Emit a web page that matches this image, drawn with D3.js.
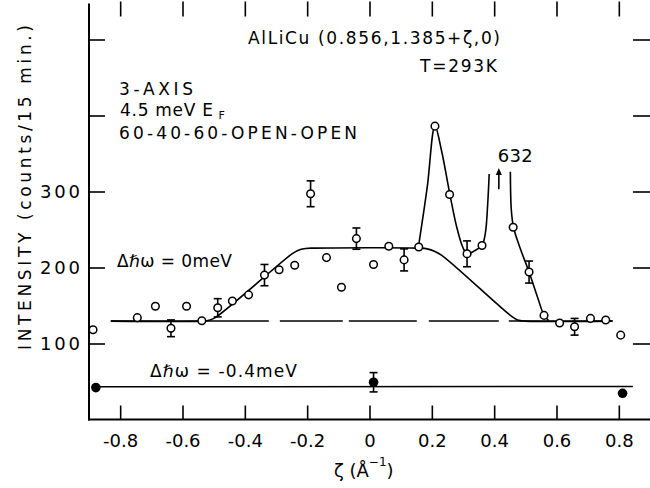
<!DOCTYPE html>
<html><head><meta charset="utf-8">
<script src="https://cdn.jsdelivr.net/npm/d3@7"></script>
<style>
body{margin:0;background:#fff}
svg{display:block;background:#fff}
text{font-family:"DejaVu Sans",sans-serif;fill:#000}
</style>
</head><body>
<svg id="c" width="650" height="488"></svg>
<script>
// ---- data ----
// open circles: Δħω = 0 meV
const zeta0 = [-0.887,-0.745,-0.687,-0.637,-0.587,-0.538,-0.487,-0.440,-0.388,-0.337,-0.290,-0.240,-0.189,-0.138,-0.090,-0.042,0.013,0.062,0.111,0.158,0.210,0.257,0.313,0.361,0.461,0.512,0.560,0.610,0.658,0.709,0.758,0.806];
const int0  = [118,134,149,120,149,130,147,156,164,190,197,203,297,213,174,238,204,228,210,227,386,296,218,229,253,194,137,127,122,133,131,111];
const err0  = [0,0,0,11,0,0,12,0,0,14,0,0,17,0,0,14,0,0,14.5,0,0,0,17,0,0,14.5,0,0,11,0,0,0];
// filled circles: Δħω = -0.4 meV
const zetaNeg = [-0.878,0.013,0.812];
const intNeg  = [42,49,34.5];
const errNeg  = [0,12.7,0];
// trapezoid fit (solid)
const fitZeta = [-0.83,-0.535,-0.515,-0.495,-0.25,-0.23,-0.205,-0.18,0.16,0.185,0.21,0.235,0.455,0.475,0.5,0.78];
const fitInt  = [129.5,129.5,130.5,134,217.5,222.5,225,225.5,225.5,224.5,221,215,136,131,129.5,129.5];
// peak curves (solid)
const peakAZeta = [0.157,0.185,0.210,0.231,0.258,0.280,0.300,0.314,0.337,0.361,0.372,0.379,0.384];
const peakAInt  = [227,305,386,354,296,253,226,218,222,229,246,282,323];
const peakBZeta = [0.452,0.455,0.462,0.482,0.512,0.540,0.560,0.575];
const peakBInt  = [326,276,253,227,194,160,137,130];
// dashed background level
const baseZeta = [-0.83,0.78];
const baseInt  = [129.5,129.5];
// line through filled points
const negZeta = [-0.878,0.845];
const negInt  = [43,43.5];
// arrow to off-scale point 632
const arrowZeta = 0.415, arrowFrom = 303, arrowTo = 331, arrowLabel = "632";
// ticks
const xTicks = [-0.8,-0.6,-0.4,-0.2,0,0.2,0.4,0.6,0.8];
const xTickLabels = ["-0.8","-0.6","-0.4","-0.2","0","0.2","0.4","0.6","0.8"];
const yTicks = [100,200,300,400,500];
const yTickLabels = ["100","200","300","",""];

// ---- drawing ----
const svg = d3.select("#c");
const L = 89, R = 650, T = 1.5, B = 419.5;
const x = d3.scaleLinear().domain([-0.9,0.9]).range([L,R]);
const y = d3.scaleLinear().domain([0,550]).range([B,T]);
const ink = "#000";

// axes
const gB = svg.append("g").attr("transform",`translate(0,${B})`)
  .call(d3.axisBottom(x).tickValues(xTicks).tickSizeInner(-14).tickSizeOuter(0)
  .tickFormat((d,i)=>xTickLabels[i]));
gB.select(".domain").remove();
gB.selectAll("line").attr("stroke",ink).attr("stroke-width",1.6);
gB.selectAll("text").attr("y",27.5).attr("dy",0).attr("font-size",18)
  .attr("font-family",'"DejaVu Sans",sans-serif');

const gT = svg.append("g").attr("transform",`translate(0,${T})`)
  .call(d3.axisTop(x).tickValues(xTicks).tickSizeInner(-15).tickSizeOuter(0).tickFormat(""));
gT.select(".domain").remove();
gT.selectAll("line").attr("stroke",ink).attr("stroke-width",1.6);

const gL = svg.append("g").attr("transform",`translate(${L},0)`)
  .call(d3.axisLeft(y).tickValues(yTicks).tickSizeInner(-16).tickSizeOuter(0).tickPadding(9)
  .tickFormat((d,i)=>yTickLabels[i]));
gL.select(".domain").remove();
gL.selectAll("line").attr("stroke",ink).attr("stroke-width",1.6);
gL.selectAll("text").attr("font-size",18).attr("textLength",40).attr("lengthAdjust","spacing")
  .attr("font-family",'"DejaVu Sans",sans-serif');

const gR = svg.append("g").attr("transform",`translate(${R},0)`)
  .call(d3.axisRight(y).tickValues(yTicks).tickSizeInner(-17).tickSizeOuter(0).tickFormat(""));
gR.select(".domain").remove();
gR.selectAll("line").attr("stroke",ink).attr("stroke-width",1.6);

svg.append("line").attr("x1",L).attr("x2",L).attr("y1",T+2).attr("y2",B+1)
  .attr("stroke",ink).attr("stroke-width",2);
svg.append("line").attr("x1",L-1).attr("x2",R).attr("y1",B).attr("y2",B)
  .attr("stroke",ink).attr("stroke-width",2);

// lines
const lineGen = d3.line().x(d=>x(d[0])).y(d=>y(d[1]));
const zip = (a,b)=>a.map((v,i)=>[v,b[i]]);
const cr = d3.line().x(d=>x(d[0])).y(d=>y(d[1])).curve(d3.curveCatmullRom.alpha(0.5));

svg.append("path").datum(zip(baseZeta,baseInt)).attr("d",lineGen)
  .attr("fill","none").attr("stroke",ink).attr("stroke-width",1.5)
  .attr("stroke-dasharray","158 11 63 6 68 12 70 10 200");

svg.append("path").datum(zip(fitZeta,fitInt)).attr("d",cr)
  .attr("fill","none").attr("stroke",ink).attr("stroke-width",1.6);

svg.append("path").datum(zip(peakAZeta,peakAInt)).attr("d",cr)
  .attr("fill","none").attr("stroke",ink).attr("stroke-width",1.6);
svg.append("path").datum(zip(peakBZeta,peakBInt)).attr("d",cr)
  .attr("fill","none").attr("stroke",ink).attr("stroke-width",1.6);

svg.append("path").datum(zip(negZeta,negInt)).attr("d",lineGen)
  .attr("fill","none").attr("stroke",ink).attr("stroke-width",1.6);

// error bars
function errBars(zs, vs, es){
  const g = svg.append("g");
  zs.forEach((z,i)=>{
    if(!es[i]) return;
    const cx = x(z), y1 = y(vs[i]-es[i]), y2 = y(vs[i]+es[i]);
    g.append("line").attr("x1",cx).attr("x2",cx).attr("y1",y1).attr("y2",y2).attr("stroke",ink).attr("stroke-width",1.6);
    [y1,y2].forEach(yy=>g.append("line").attr("x1",cx-4).attr("x2",cx+4).attr("y1",yy).attr("y2",yy)
      .attr("stroke",ink).attr("stroke-width",1.6));
  });
}
errBars(zeta0,int0,err0);
errBars(zetaNeg,intNeg,errNeg);

// points
svg.append("g").selectAll("circle").data(zip(zeta0,int0)).join("circle")
  .attr("cx",d=>x(d[0])).attr("cy",d=>y(d[1])).attr("r",3.8)
  .attr("fill","#fff").attr("stroke",ink).attr("stroke-width",1.5);
svg.append("g").selectAll("circle").data(zip(zetaNeg,intNeg)).join("circle")
  .attr("cx",d=>x(d[0])).attr("cy",d=>y(d[1])).attr("r",4.8)
  .attr("fill",ink);

// arrow
const ax = x(arrowZeta);
svg.append("line").attr("x1",ax).attr("x2",ax).attr("y1",y(arrowFrom)).attr("y2",y(arrowTo)+5)
  .attr("stroke",ink).attr("stroke-width",1.6);
svg.append("path").attr("d",`M${ax},${y(arrowTo)} L${ax-3},${y(arrowTo)+7} L${ax+3},${y(arrowTo)+7} Z`).attr("fill",ink);

// text
function txt(xp, yp, s, size, len, anchor){
  const t = svg.append("text").attr("x",xp).attr("y",yp).attr("font-size",size).text(s);
  if(anchor) t.attr("text-anchor",anchor);
  if(len) t.attr("textLength",len).attr("lengthAdjust","spacing");
  return t;
}
txt(497.7,161.7,arrowLabel,18,35);
txt(248,44,"AlLiCu (0.856,1.385+ζ,0)",17,252);
txt(420,72.3,"T=293K",17,77);
txt(119,95,"3-AXIS",17,74);
const ef = svg.append("text").attr("x",120).attr("y",115.7).attr("font-size",17);
ef.append("tspan").attr("textLength",93).attr("lengthAdjust","spacing").text("4.5 meV E");
ef.append("tspan").attr("x",218.5).attr("y",119.3).attr("font-size",11).text("F");
txt(119,138.6,"60-40-60-OPEN-OPEN",17,238);
txt(117,267.3,"Δℏω = 0meV",17,115);
txt(150,376.7,"Δℏω = -0.4meV",17,147);

// axis titles
svg.append("text").attr("transform","translate(31,187.5) rotate(-90)")
  .attr("text-anchor","middle").attr("font-size",17)
  .attr("textLength",325).attr("lengthAdjust","spacing")
  .text("INTENSITY (counts/15 min.)");
const xl = svg.append("text").attr("x",334).attr("y",477).attr("font-size",18);
xl.append("tspan").text("ζ (Å");
xl.append("tspan").attr("font-size",12).attr("dy",-11).text("−1");
xl.append("tspan").attr("dy",11).text(")");
</script>
</body></html>
